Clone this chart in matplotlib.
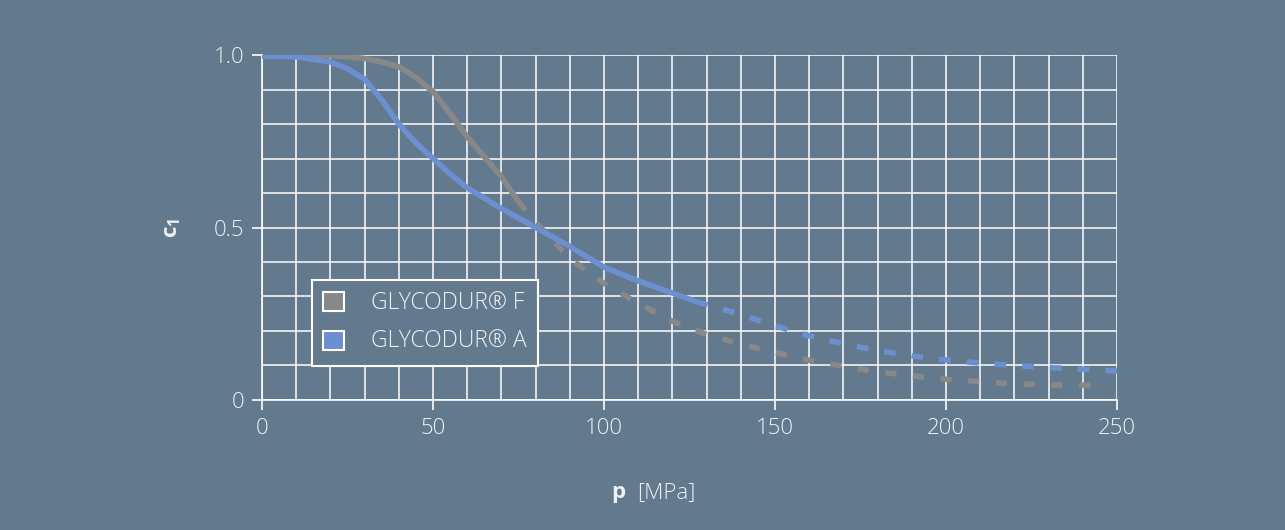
import matplotlib
matplotlib.use('Agg')
import matplotlib.pyplot as plt
from matplotlib.patches import Patch

# curve data (p in MPa, c1)
f_solid_p = [0, 10, 20, 25, 30, 35, 40, 45, 50, 55, 60, 65, 70, 75]
f_solid_c = [1.0, 1.0, 0.998, 0.995, 0.99, 0.98, 0.966, 0.935, 0.894, 0.83, 0.763, 0.705, 0.647, 0.575]
f_dash_p = [75, 80, 90, 100, 110, 120, 130, 140, 150, 160, 170, 180, 190, 200, 210, 220, 230, 245]
f_dash_c = [0.575, 0.515, 0.41, 0.338, 0.28, 0.228, 0.19, 0.162, 0.138, 0.115, 0.097, 0.082, 0.07,
            0.06, 0.053, 0.047, 0.044, 0.042]

a_solid_p = [0, 10, 20, 25, 30, 35, 40, 45, 50, 55, 60, 70, 80, 90, 100, 110, 120, 127]
a_solid_c = [0.997, 0.995, 0.98, 0.96, 0.93, 0.87, 0.80, 0.745, 0.70, 0.655, 0.615, 0.555, 0.50,
             0.445, 0.385, 0.345, 0.31, 0.285]
a_dash_p = [127, 140, 150, 160, 170, 180, 190, 200, 210, 220, 230, 240, 250]
a_dash_c = [0.285, 0.248, 0.215, 0.186, 0.163, 0.143, 0.128, 0.116, 0.107, 0.1, 0.094, 0.089, 0.084]

labels = ['GLYCODUR® F', 'GLYCODUR® A']
x_ticks = [0, 50, 100, 150, 200, 250]
y_ticks = [0, 0.5, 1.0]
y_tick_labels = ['0', '0.5', '1.0']

bg = '#637a8e'
txt = '#eef1f4'
gray = '#888888'
blue = '#6b8fd0'

plt.rcParams['font.family'] = ['Open Sans', 'DejaVu Sans']
plt.rcParams['mathtext.fontset'] = 'custom'
plt.rcParams['mathtext.bf'] = 'Open Sans:bold'

fig = plt.figure(figsize=(12.85, 5.3), dpi=100, facecolor=bg)
ax = fig.add_axes([0.2039, 0.2453, 0.6654, 0.6509])
ax.set_facecolor(bg)

# grid every 10 MPa / 0.1
for gx in range(0, 251, 10):
    ax.axvline(gx, color='white', lw=1.1, zorder=1)
for i in range(11):
    ax.axhline(i / 10, color='white', lw=1.1, zorder=1)

lw = 4.0
ax.plot(f_solid_p, f_solid_c, color=gray, lw=lw, solid_capstyle='butt', zorder=3)
ax.plot(f_dash_p, f_dash_c, color=gray, lw=lw, dashes=(2.0, 3.0), dash_capstyle='butt', zorder=3)
ax.plot(a_solid_p, a_solid_c, color=blue, lw=lw, solid_capstyle='butt', zorder=4)
ax.plot(a_dash_p, a_dash_c, color=blue, lw=lw, dashes=(2.1, 2.9), dash_capstyle='butt', zorder=4)

ax.set_xlim(0, 250)
ax.set_ylim(0, 1.0)
ax.set_xticks(x_ticks)
ax.set_yticks(y_ticks)
ax.set_yticklabels(y_tick_labels)
ax.tick_params(colors='white', labelcolor=txt, labelsize=16, length=7, width=1.2, pad=6)
for lab in ax.get_xticklabels() + ax.get_yticklabels():
    lab.set_fontweight('light')
for s in ['top', 'right']:
    ax.spines[s].set_visible(False)
for s in ['left', 'bottom']:
    ax.spines[s].set_color('white')
    ax.spines[s].set_linewidth(1.2)

fig.text(0.134, 0.57, r'$\mathbf{c_1}$', color=txt, fontsize=16, rotation=90,
         ha='center', va='center')
fig.text(0.487, 0.07, 'p', color=txt, fontsize=16, fontweight='bold', ha='right', va='center')
fig.text(0.496, 0.07, '[MPa]', color=txt, fontsize=16, fontweight='light', ha='left', va='center')

handles = [Patch(facecolor=gray, edgecolor='white', lw=1.5),
           Patch(facecolor=blue, edgecolor='white', lw=1.5)]
leg = ax.legend(handles, labels, loc='upper left', bbox_to_anchor=(0.058, 0.348),
                borderaxespad=0, fancybox=False, framealpha=1, facecolor=bg,
                edgecolor='white', fontsize=16.5, handlelength=0.9, handleheight=0.9,
                handletextpad=1.2, labelspacing=0.65, borderpad=0.5)
leg.get_frame().set_linewidth(1.5)
leg.set_zorder(5)
for t in leg.get_texts():
    t.set_color(txt)
    t.set_fontweight('light')

fig.savefig('out.png', dpi=100, facecolor=bg)
